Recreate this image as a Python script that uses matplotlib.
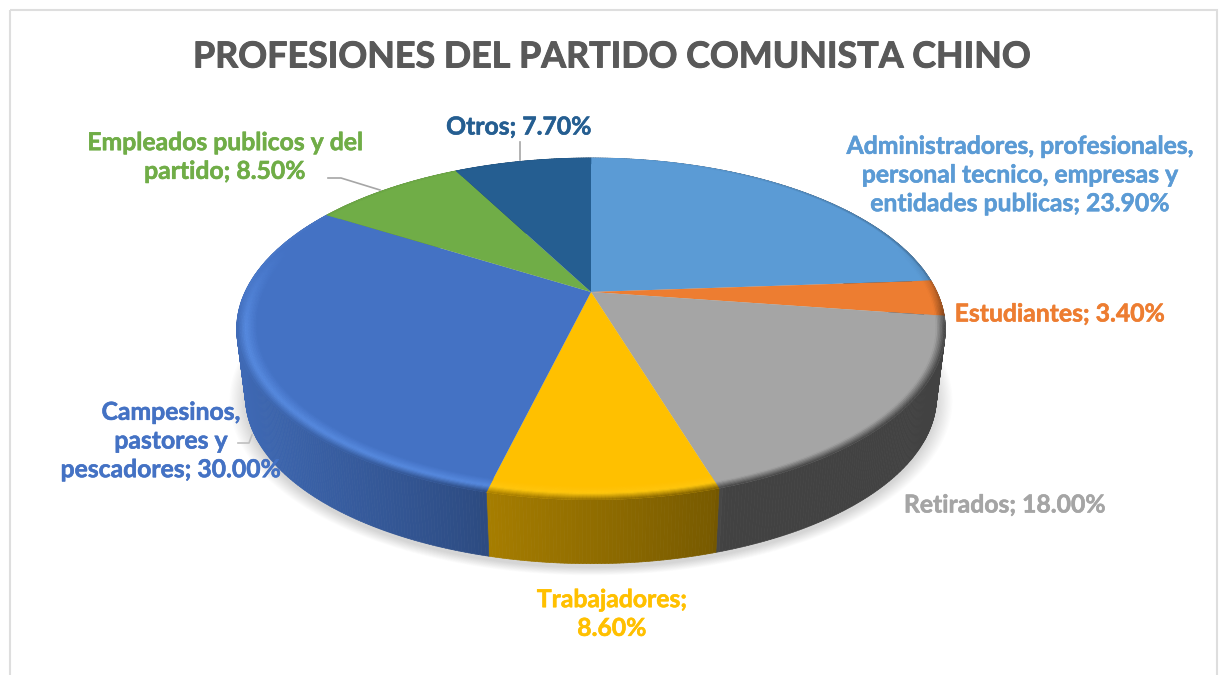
import numpy as np
import matplotlib
matplotlib.use("Agg")
import matplotlib.pyplot as plt
import matplotlib.patheffects as pe
from matplotlib.collections import PolyCollection
from matplotlib.colors import to_rgb
from matplotlib.patches import Rectangle

plt.rcParams['font.family'] = ['Lato', 'DejaVu Sans']

# =========================================================
# DATA
# =========================================================
TITLE = "PROFESIONES DEL PARTIDO COMUNISTA CHINO"
categories = ["Administradores, profesionales,\npersonal tecnico, empresas y\nentidades publicas",
              "Estudiantes", "Retirados", "Trabajadores", "Campesinos,\npastores y\npescadores",
              "Empleados publicos y del\npartido", "Otros"]
values = [23.9, 3.4, 18.0, 8.6, 30.0, 8.5, 7.7]
colors = ["#5b9bd5", "#ed7d31", "#a5a5a5", "#ffc000", "#4472c4", "#70ad47", "#255e91"]
rim_colors = ["#5b9bd5", "#ed7d31", "#a5a5a5", "#ffc810", "#5a8ee4", "#70ad47", "#255e91"]

label_pos = [(1020, 175), (1060, 314), (1005, 505), (612, 614), (171, 441), (225, 157), (519, 127)]
label_sep = ["; ", "; ", "; ", ";\n", "; ", "; ", "; "]

# =========================================================
# PROJECTION (pixels, tilted disc with perspective)
# =========================================================
CX, CY = 591.0, 292.0
AX, BX, PERSP = 346.0, 163.0, 0.216
WALL_SCALE, WALL_TOP, WALL_BOT = 0.975, 330.0, 398.0


def disc(r, t):
    u, v = r * np.sin(t), r * np.cos(t)
    w = 1 + PERSP * v
    return CX + AX * u / w, CY - BX * v / w


def floor(x, y):
    return CX + WALL_SCALE * (x - CX), WALL_BOT + WALL_SCALE * (y - WALL_TOP)


def wall_factor(x):
    return np.interp(x, [237, 300, 400, 490, 715, 725, 945], [0.92, 0.85, 0.75, 0.65, 0.47, 0.40, 0.40])


fig = plt.figure(figsize=(12.22, 6.75), dpi=100)
ax = fig.add_axes([0, 0, 1, 1])
ax.set_xlim(0, 1222)
ax.set_ylim(675, 0)
ax.axis("off")

ax.add_patch(Rectangle((9.5, 9.5), 1207, 700, fill=False, ec="#dedede", lw=1.5, zorder=1))

shares = np.array(values) / sum(values)
edges = np.concatenate([[0], np.cumsum(shares)]) * 2 * np.pi

# soft shadow
tt = np.linspace(0, 2 * np.pi, 361)
sx, sy = floor(*disc(1.0, tt))
for grow in np.linspace(0, 16, 14):
    scale = 1 + grow / 345
    ax.fill(CX + scale * (sx - CX), WALL_BOT + scale * (sy - WALL_BOT) + 4, color="black", alpha=0.012, lw=0, zorder=2)

# side wall, then faces, then bevel
for i, col in enumerate(colors):
    base = np.array(to_rgb(col))
    t = np.linspace(edges[i], edges[i + 1], max(int((edges[i + 1] - edges[i]) * 120), 4))
    x, y = disc(1.0, t)
    fx, fy = floor(x, y)
    quads, cols = [], []
    for k in range(len(t) - 1):
        quads.append([(x[k], y[k]), (x[k + 1], y[k + 1]), (fx[k + 1], fy[k + 1]), (fx[k], fy[k])])
        cols.append(base * wall_factor((x[k] + x[k + 1]) / 2))
    ax.add_collection(PolyCollection(quads, facecolors=cols, edgecolors=cols, linewidths=0.5, zorder=3))

for i, col in enumerate(colors):
    t = np.linspace(edges[i], edges[i + 1], 200)
    x, y = disc(1.0, t)
    ax.fill(np.r_[CX, x], np.r_[CY, y], color=col, lw=0, zorder=4)

radii = np.linspace(0.945, 1.0, 14)
for i, col in enumerate(colors):
    base = np.array(to_rgb(col))
    rim = np.array(to_rgb(rim_colors[i]))
    t = np.linspace(edges[i], edges[i + 1], max(int((edges[i + 1] - edges[i]) * 120), 4))
    quads, cols = [], []
    for j in range(len(radii) - 1):
        for k in range(len(t) - 1):
            rr = (radii[j] + radii[j + 1]) / 2
            tm = (t[k] + t[k + 1]) / 2
            fade = np.clip((0.3 - np.cos(tm)) / 0.5, 0, 1)
            xa, ya = disc(radii[j], t[k:k + 2])
            xb, yb = disc(radii[j + 1], t[k:k + 2])
            quads.append([(xa[0], ya[0]), (xa[1], ya[1]), (xb[1], yb[1]), (xb[0], yb[0])])
            # ramp up to the rim colour, then drop to the wall colour at the very edge
            c = base + (rim - base) * np.clip((rr - 0.945) / 0.035, 0, 1)
            dark = base * wall_factor(xa.mean())
            c = c + (dark - c) * np.clip((rr - 0.975) / 0.025, 0, 1) * max(fade, 0.5)
            cols.append(base + (c - base) * max(fade, np.clip((rr - 0.99) / 0.01, 0, 1) * np.sin(tm) ** 2))
    ax.add_collection(PolyCollection(quads, facecolors=cols, edgecolors=cols, linewidths=0.3, zorder=5))

# leader lines
LEADER = "#a6a6a6"
ax.plot([520, 520], [142, 160], color=LEADER, lw=1.2, zorder=6)
ax.plot([328, 341, 380], [178, 178, 190], color=LEADER, lw=1.2, zorder=6)
ax.plot([238, 249, 252], [443, 443, 435], color="#bfbfbf", lw=1.2, zorder=6)

# text
ax.text(612, 57, TITLE, fontsize=25.8, fontweight="bold", color="#595959", ha="center", va="center", zorder=7,
        path_effects=[pe.withStroke(linewidth=0.7, foreground="#595959")])
for name, val, sep, pos, col in zip(categories, values, label_sep, label_pos, colors):
    ax.text(pos[0], pos[1], f"{name}{sep}{val:.2f}%", fontsize=17.8, fontweight="bold", color=col,
            ha="center", va="center", linespacing=1.3, zorder=7,
            path_effects=[pe.withStroke(linewidth=0.4, foreground=col)])

fig.savefig("out.png", dpi=100)
